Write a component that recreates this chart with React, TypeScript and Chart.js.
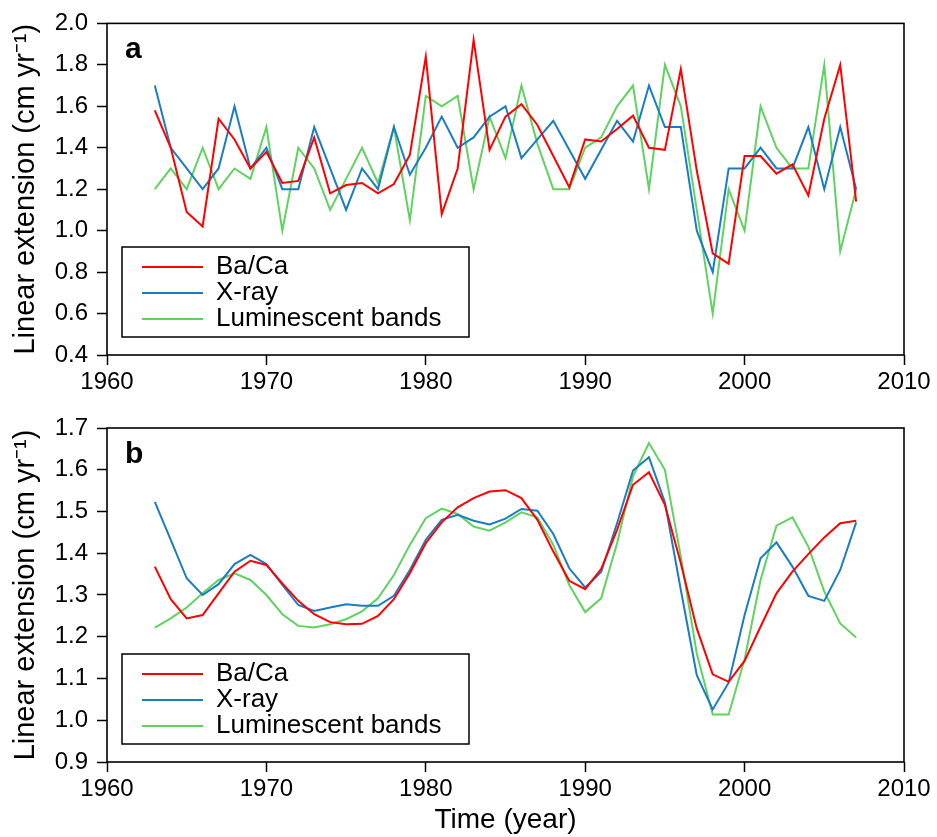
import React, { useEffect, useRef } from 'react';
import { Chart, registerables } from 'chart.js';

Chart.register(...registerables);

const FONT = '"Liberation Sans", Arial, Helvetica, sans-serif';
Chart.defaults.font.family = FONT;
Chart.defaults.color = '#000';

const years = [
  1963, 1964, 1965, 1966, 1967, 1968, 1969, 1970, 1971, 1972,
  1973, 1974, 1975, 1976, 1977, 1978, 1979, 1980, 1981, 1982,
  1983, 1984, 1985, 1986, 1987, 1988, 1989, 1990, 1991, 1992,
  1993, 1994, 1995, 1996, 1997, 1998, 1999, 2000, 2001, 2002,
  2003, 2004, 2005, 2006, 2007,
];

const seriesNames = ['Ba/Ca', 'X-ray', 'Luminescent bands'];
const seriesColors = ['#ff0000', '#1a7dc4', '#5fd35f'];

// Panel a: annual values
const baCaAnnual = [
  1.58, 1.40, 1.09, 1.02, 1.54, 1.44, 1.30, 1.38, 1.23, 1.24,
  1.45, 1.18, 1.22, 1.23, 1.18, 1.225, 1.365, 1.84, 1.08, 1.30,
  1.92, 1.39, 1.55, 1.61, 1.51, 1.36, 1.21, 1.44, 1.43, 1.49,
  1.555, 1.40, 1.39, 1.78, 1.29, 0.89, 0.84, 1.36, 1.36, 1.275,
  1.32, 1.17, 1.54, 1.80, 1.14,
];
const xRayAnnual = [
  1.70, 1.40, 1.30, 1.20, 1.30, 1.60, 1.30, 1.40, 1.20, 1.20,
  1.50, 1.30, 1.10, 1.30, 1.20, 1.50, 1.27, 1.40, 1.55, 1.40,
  1.45, 1.55, 1.60, 1.35, 1.44, 1.53, 1.39, 1.25, 1.39, 1.53,
  1.43, 1.70, 1.50, 1.50, 1.00, 0.80, 1.30, 1.30, 1.40, 1.30,
  1.30, 1.50, 1.20, 1.50, 1.20,
];
const lumAnnual = [
  1.20, 1.30, 1.20, 1.40, 1.20, 1.30, 1.25, 1.50, 1.00, 1.40,
  1.30, 1.10, 1.25, 1.40, 1.23, 1.50, 1.05, 1.65, 1.60, 1.65,
  1.20, 1.55, 1.35, 1.70, 1.42, 1.20, 1.20, 1.40, 1.45, 1.60,
  1.70, 1.20, 1.80, 1.60, 1.10, 0.60, 1.20, 1.00, 1.60, 1.40,
  1.30, 1.30, 1.80, 0.90, 1.20,
];

// Panel b: smoothed values
const baCaSmooth = [
  1.368, 1.29, 1.244, 1.252, 1.304, 1.356, 1.382, 1.372, 1.328, 1.286,
  1.254, 1.235, 1.23, 1.231, 1.25, 1.29, 1.352, 1.424, 1.474, 1.51,
  1.532, 1.548, 1.551, 1.532, 1.48, 1.404, 1.334, 1.314, 1.362, 1.456,
  1.564, 1.594, 1.516, 1.376, 1.22, 1.11, 1.092, 1.142, 1.224, 1.304,
  1.356, 1.398, 1.438, 1.472, 1.478,
];
const xRaySmooth = [
  1.523, 1.432, 1.34, 1.30, 1.326, 1.374, 1.396, 1.374, 1.324, 1.276,
  1.262, 1.27, 1.278, 1.274, 1.274, 1.298, 1.36, 1.432, 1.48, 1.492,
  1.478, 1.469, 1.483, 1.506, 1.502, 1.446, 1.364, 1.318, 1.355, 1.472,
  1.598, 1.63, 1.522, 1.312, 1.108, 1.026, 1.09, 1.252, 1.388, 1.426,
  1.368, 1.298, 1.286, 1.36, 1.474,
];
const lumSmooth = [
  1.222, 1.244, 1.27, 1.304, 1.336, 1.352, 1.336, 1.30, 1.254, 1.226,
  1.222, 1.23, 1.242, 1.261, 1.292, 1.348, 1.42, 1.484, 1.507, 1.494,
  1.464, 1.454, 1.474, 1.498, 1.486, 1.42, 1.324, 1.259, 1.292, 1.424,
  1.584, 1.664, 1.60, 1.392, 1.16, 1.014, 1.014, 1.146, 1.336, 1.466,
  1.486, 1.416, 1.308, 1.232, 1.198,
];

const xTicks = [1960, 1970, 1980, 1990, 2000, 2010];
const yTicksA = [0.4, 0.6, 0.8, 1.0, 1.2, 1.4, 1.6, 1.8, 2.0];
const yTicksB = [0.9, 1.0, 1.1, 1.2, 1.3, 1.4, 1.5, 1.6, 1.7];

const yTitle = 'Linear extension (cm yr\u207B\u00B9)';

function decorPlugin(letter: string) {
  return {
    id: 'decor_' + letter,
    beforeDraw(chart: any) {
      const lg = chart.legend;
      const ca = chart.chartArea;
      if (lg && ca) {
        const dx = ca.left + 35 - lg.left;
        const dy = ca.bottom - 101 - lg.top;
        lg.left += dx;
        lg.right += dx;
        lg.top += dy;
        lg.bottom += dy;
      }
    },
    afterDraw(chart: any) {
      const ctx = chart.ctx;
      const ca = chart.chartArea;
      ctx.save();
      ctx.strokeStyle = '#000';
      ctx.lineWidth = 1.6;
      ctx.strokeRect(ca.left, ca.top, ca.right - ca.left, ca.bottom - ca.top);
      ctx.lineWidth = 1.5;
      ctx.strokeRect(ca.left + 15, ca.bottom - 108, 347, 90);
      ctx.fillStyle = '#000';
      ctx.font = `bold 30px ${FONT}`;
      ctx.textAlign = 'left';
      ctx.textBaseline = 'alphabetic';
      ctx.fillText(letter, ca.left + 18, ca.top + 35);
      ctx.restore();
    },
  };
}

type PanelProps = {
  series: number[][];
  yMin: number;
  yMax: number;
  yTicks: number[];
  letter: string;
  height: number;
  padTop: number;
  xAxisHeight: number;
  xTitle?: string;
};

function Panel({ series, yMin, yMax, yTicks, letter, height, padTop, xAxisHeight, xTitle }: PanelProps) {
  const ref = useRef<HTMLCanvasElement>(null);

  useEffect(() => {
    if (!ref.current) return;
    const gridOpts = {
      display: true,
      drawOnChartArea: false,
      drawTicks: true,
      tickLength: 10,
      tickColor: '#000',
      tickWidth: 1.5,
    };
    const chart = new Chart(ref.current, {
      type: 'line',
      data: {
        datasets: seriesNames.map((name, i) => ({
          label: name,
          data: years.map((yr, j) => ({ x: yr, y: series[i][j] })),
          borderColor: seriesColors[i],
          backgroundColor: seriesColors[i],
          borderWidth: 2,
          pointRadius: 0,
          fill: false,
          tension: 0,
        })),
      },
      options: {
        responsive: false,
        animation: false,
        devicePixelRatio: 1,
        layout: { padding: { top: padTop, right: 33, left: 0, bottom: 0 } },
        plugins: {
          tooltip: { enabled: false },
          legend: {
            position: 'chartArea' as any,
            align: 'start',
            labels: {
              boxWidth: 61,
              boxHeight: 2,
              padding: 0,
              color: '#000',
              font: { size: 26, family: FONT },
              generateLabels: (c: any) =>
                c.data.datasets.map((ds: any, i: number) => ({
                  text: ds.label,
                  fillStyle: ds.borderColor,
                  strokeStyle: ds.borderColor,
                  lineWidth: 0,
                  hidden: false,
                  datasetIndex: i,
                })),
            },
          },
        },
        scales: {
          x: {
            type: 'linear',
            min: 1960,
            max: 2010,
            afterBuildTicks: (s: any) => {
              s.ticks = xTicks.map((v) => ({ value: v }));
            },
            afterFit: (s: any) => {
              s.height = xAxisHeight;
            },
            ticks: {
              font: { size: 24, family: FONT },
              color: '#000',
              padding: 3,
              maxRotation: 0,
              autoSkip: false,
              callback: (v: any) => String(v),
            },
            grid: gridOpts,
            border: { display: false },
            title: {
              display: !!xTitle,
              text: xTitle || '',
              font: { size: 28, family: FONT },
              color: '#000',
              padding: { top: 0, bottom: 0 },
            },
          },
          y: {
            type: 'linear',
            min: yMin,
            max: yMax,
            afterBuildTicks: (s: any) => {
              s.ticks = yTicks.map((v) => ({ value: v }));
            },
            afterFit: (s: any) => {
              s.width = 107;
            },
            ticks: {
              font: { size: 24, family: FONT },
              color: '#000',
              padding: 9,
              callback: (v: any) => Number(v).toFixed(1),
            },
            grid: gridOpts,
            border: { display: false },
            title: {
              display: true,
              text: yTitle,
              font: { size: 29, family: FONT },
              color: '#000',
              padding: { top: 9, bottom: 0 },
            },
          },
        },
      } as any,
      plugins: [decorPlugin(letter)],
    });
    return () => chart.destroy();
  }, []);

  return <canvas ref={ref} width={937} height={height} style={{ display: 'block', width: 937, height }} />;
}

export default function App() {
  return (
    <div style={{ position: 'absolute', left: 0, top: 0, width: 937, height: 837, background: '#fff' }}>
      <Panel
        series={[baCaAnnual, xRayAnnual, lumAnnual]}
        yMin={0.4}
        yMax={2.0}
        yTicks={yTicksA}
        letter="a"
        height={400}
        padTop={22}
        xAxisHeight={45}
      />
      <Panel
        series={[baCaSmooth, xRaySmooth, lumSmooth]}
        yMin={0.9}
        yMax={1.7}
        yTicks={yTicksB}
        letter="b"
        height={437}
        padTop={28}
        xAxisHeight={75}
        xTitle="Time (year)"
      />
    </div>
  );
}
